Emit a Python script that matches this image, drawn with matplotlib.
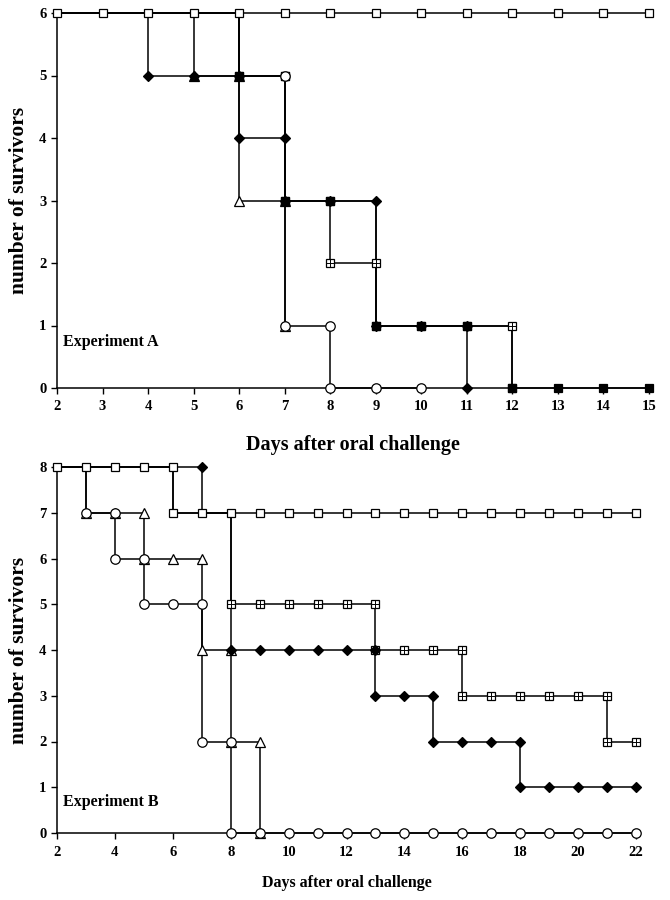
import matplotlib.pyplot as plt

plt.rcParams['font.family'] = ['Liberation Serif', 'DejaVu Serif']
plt.rcParams['font.weight'] = 'bold'

# ---- Experiment A: survivors per day ----
a_ctrl_days = [2, 3, 4, 5, 6, 7, 8, 9, 10, 11, 12, 13, 14, 15]
a_ctrl_surv = [6, 6, 6, 6, 6, 6, 6, 6, 6, 6, 6, 6, 6, 6]
a_cross_days = [2, 3, 4, 5, 6, 6, 7, 7, 8, 8, 9, 9, 10, 11, 12, 12]
a_cross_surv = [6, 6, 6, 6, 6, 5, 5, 3, 3, 2, 2, 1, 1, 1, 1, 0]
a_otri_days = [2, 3, 4, 5, 6, 6, 7, 7]
a_otri_surv = [6, 6, 6, 6, 6, 3, 3, 1]
a_diam_days = [2, 3, 4, 4, 5, 6, 6, 7, 7, 8, 9, 9, 10, 11, 11]
a_diam_surv = [6, 6, 6, 5, 5, 5, 4, 4, 3, 3, 3, 1, 1, 1, 0]
a_ftri_days = [2, 3, 4, 5, 5, 6]
a_ftri_surv = [6, 6, 6, 6, 5, 5]
a_fsq_days = [2, 3, 4, 5, 6, 6, 7, 7, 8, 9, 9, 10, 11, 12, 12, 13, 14, 15]
a_fsq_surv = [6, 6, 6, 6, 6, 5, 5, 3, 3, 3, 1, 1, 1, 1, 0, 0, 0, 0]
a_circ_days = [2, 3, 4, 5, 6, 6, 7, 7, 8, 8, 9, 10]
a_circ_surv = [6, 6, 6, 6, 6, 5, 5, 1, 1, 0, 0, 0]

# ---- Experiment B ----
b_ctrl_days = [2, 3, 4, 5, 6, 6, 7, 8, 9, 10, 11, 12, 13, 14, 15, 16, 17, 18, 19, 20, 21, 22]
b_ctrl_surv = [8, 8, 8, 8, 8, 7, 7, 7, 7, 7, 7, 7, 7, 7, 7, 7, 7, 7, 7, 7, 7, 7]
b_cross_days = [2, 3, 4, 5, 6, 6, 7, 8, 8, 9, 10, 11, 12, 13, 13, 14, 15, 16, 16, 17, 18, 19, 20, 21, 21, 22]
b_cross_surv = [8, 8, 8, 8, 8, 7, 7, 7, 5, 5, 5, 5, 5, 5, 4, 4, 4, 4, 3, 3, 3, 3, 3, 3, 2, 2]
b_otri_days = [2, 3, 3, 4, 5, 5, 6, 7, 7, 8, 8, 9, 9]
b_otri_surv = [8, 8, 7, 7, 7, 6, 6, 6, 4, 4, 2, 2, 0]
b_diam_days = [2, 3, 4, 5, 6, 7, 7, 8, 8, 9, 10, 11, 12, 13, 13, 14, 15, 15, 16, 17, 18, 18, 19, 20, 21, 22]
b_diam_surv = [8, 8, 8, 8, 8, 8, 7, 7, 4, 4, 4, 4, 4, 4, 3, 3, 3, 2, 2, 2, 2, 1, 1, 1, 1, 1]
b_circ_days = [2, 3, 3, 4, 4, 5, 5, 6, 7, 7, 8, 8, 9, 10, 11, 12, 13, 14, 15, 16, 17, 18, 19, 20, 21, 22]
b_circ_surv = [8, 8, 7, 7, 6, 6, 5, 5, 5, 2, 2, 0, 0, 0, 0, 0, 0, 0, 0, 0, 0, 0, 0, 0, 0, 0]

# marker styles
STYLES = {
    'open_sq': dict(marker='s', ms=6.0, mfc='white'),
    'cross_sq': dict(marker='s', ms=6.0, mfc='white'),
    'diamond': dict(marker='D', ms=4.6, mfc='black'),
    'ftri': dict(marker='^', ms=6.5, mfc='black'),
    'otri': dict(marker='^', ms=6.5, mfc='white'),
    'fsq': dict(marker='s', ms=6.0, mfc='black'),
    'circ': dict(marker='o', ms=6.8, mfc='white'),
}


def draw(ax, days, surv, kind, z, hide=()):
    keep = [i for i, p in enumerate(zip(days, surv)) if p not in hide]
    ax.plot(days, surv, color='black', lw=1.1, zorder=2, clip_on=False)
    ax.plot(days, surv, ls='none', mec='black', mew=0.9, markevery=keep,
            zorder=z, clip_on=False, **STYLES[kind])
    if kind == 'cross_sq':
        ax.plot(days, surv, ls='none', marker='+', ms=6.0, mec='black',
                mew=0.7, markevery=keep, zorder=z + 0.5, clip_on=False)


def style_axes(ax, xticks, yticks, xlim, ylim, xlabel_size, xlabel_y):
    ax.set_xlim(*xlim)
    ax.set_ylim(*ylim)
    ax.set_xticks(xticks)
    ax.set_yticks(yticks)
    for s in ['top', 'right']:
        ax.spines[s].set_visible(False)
    for s in ['left', 'bottom']:
        ax.spines[s].set_linewidth(1.1)
    ax.tick_params(direction='out', length=4, width=1.0, labelsize=10.5)
    ax.tick_params(axis='x', pad=5)
    ax.set_xlabel('Days after oral challenge', fontsize=xlabel_size, fontweight='bold')
    ax.xaxis.set_label_coords(0.5, xlabel_y)
    ax.set_ylabel('number of survivors', fontsize=15.5, fontweight='bold')


fig = plt.figure(figsize=(6.7, 9.0), dpi=100)

# top panel
ax1 = fig.add_axes([57 / 670, 1 - 388 / 900, 592 / 670, 375 / 900])
a_top = set(zip(a_ctrl_days, a_ctrl_surv))
draw(ax1, a_cross_days, a_cross_surv, 'cross_sq', 3, hide=a_top)
draw(ax1, a_otri_days, a_otri_surv, 'otri', 4, hide=a_top)
draw(ax1, a_diam_days, a_diam_surv, 'diamond', 5, hide=a_top)
draw(ax1, a_ftri_days, a_ftri_surv, 'ftri', 6, hide=a_top)
draw(ax1, a_fsq_days, a_fsq_surv, 'fsq', 7, hide=a_top | {(9, 3), (12, 1)})
draw(ax1, a_circ_days, a_circ_surv, 'circ', 8, hide=a_top | {(6, 5)})
draw(ax1, a_ctrl_days, a_ctrl_surv, 'open_sq', 9)
style_axes(ax1, range(2, 16), range(0, 7), (2, 15), (0, 6), 14.5, -0.125)
ax1.yaxis.set_label_coords(-0.047, 0.5)
ax1.text(0.01, 0.123, 'Experiment A', transform=ax1.transAxes, fontsize=11.5,
         fontweight='bold', ha='left', va='center')

# bottom panel
ax2 = fig.add_axes([57 / 670, 1 - 833 / 900, 579 / 670, 366 / 900])
b_top = set(zip(b_ctrl_days, b_ctrl_surv))
draw(ax2, b_cross_days, b_cross_surv, 'cross_sq', 3, hide=b_top)
draw(ax2, b_otri_days, b_otri_surv, 'otri', 4, hide=b_top)
draw(ax2, b_diam_days, b_diam_surv, 'diamond', 5, hide=b_top)
draw(ax2, b_circ_days, b_circ_surv, 'circ', 6, hide=b_top)
draw(ax2, b_ctrl_days, b_ctrl_surv, 'open_sq', 7)
style_axes(ax2, range(2, 23, 2), range(0, 9), (2, 22), (0, 8), 11.5, -0.115)
ax2.yaxis.set_label_coords(-0.048, 0.5)
ax2.text(0.01, 0.085, 'Experiment B', transform=ax2.transAxes, fontsize=11.5,
         fontweight='bold', ha='left', va='center')

fig.savefig('out.png', dpi=100)
